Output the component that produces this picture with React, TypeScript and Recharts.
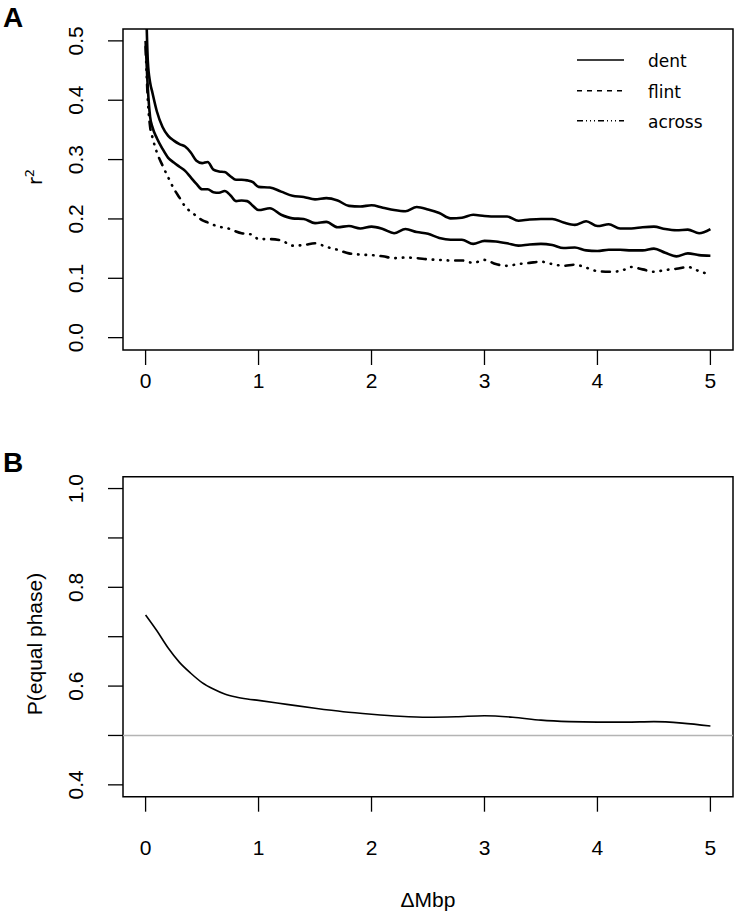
import React from 'react';
import { LineChart, Line, XAxis, YAxis, ReferenceArea, ReferenceLine } from 'recharts';

// ---------- Panel A data ----------
const distA = [
  0, 0.02, 0.04, 0.06,
  0.1, 0.15, 0.2, 0.25, 0.3, 0.35, 0.4, 0.45, 0.5, 0.55, 0.6, 0.65, 0.7, 0.75, 0.8, 0.85, 0.9, 0.95,
  1.0, 1.1, 1.2, 1.3, 1.4, 1.5, 1.6, 1.7, 1.8, 1.9,
  2.0, 2.1, 2.2, 2.3, 2.4, 2.5, 2.6, 2.7, 2.8, 2.9,
  3.0, 3.1, 3.2, 3.3, 3.4, 3.5, 3.6, 3.7, 3.8, 3.9,
  4.0, 4.1, 4.2, 4.3, 4.4, 4.5, 4.6, 4.7, 4.8, 4.9, 5.0,
];
const dent = [
  0.6, 0.465, 0.43, 0.413,
  0.381, 0.355, 0.34, 0.332, 0.326, 0.322, 0.312, 0.298, 0.294, 0.296, 0.283, 0.28, 0.279, 0.272, 0.266, 0.266, 0.265, 0.262,
  0.254, 0.253, 0.246, 0.239, 0.237, 0.233, 0.235, 0.231, 0.222, 0.221,
  0.223, 0.219, 0.215, 0.213, 0.22, 0.216, 0.21, 0.201, 0.202, 0.207,
  0.205, 0.204, 0.204, 0.197, 0.199, 0.2, 0.2, 0.194, 0.19, 0.196,
  0.188, 0.191, 0.184, 0.184, 0.186, 0.187, 0.183, 0.181, 0.182, 0.176, 0.183,
];
const flint = [
  0.5, 0.42, 0.372, 0.355,
  0.336, 0.318, 0.303, 0.295, 0.288, 0.281, 0.27, 0.259, 0.25, 0.25, 0.245, 0.244, 0.247, 0.24, 0.23, 0.231, 0.23, 0.222,
  0.215, 0.218, 0.207, 0.201, 0.2, 0.193, 0.195, 0.186, 0.188, 0.184,
  0.187, 0.183, 0.176, 0.183, 0.178, 0.175, 0.168, 0.165, 0.165, 0.158,
  0.163, 0.162, 0.159, 0.155, 0.157, 0.158, 0.156, 0.151, 0.152, 0.147,
  0.146, 0.148, 0.148, 0.147, 0.147, 0.15, 0.143, 0.137, 0.142, 0.139, 0.138,
];
const across = [
  0.49, 0.4, 0.355, 0.338,
  0.312, 0.29, 0.27, 0.251, 0.236, 0.221, 0.212, 0.205, 0.198, 0.194, 0.19, 0.187, 0.185, 0.183, 0.179, 0.176, 0.175, 0.173,
  0.166, 0.166, 0.164, 0.155, 0.156, 0.159, 0.153, 0.148, 0.142, 0.14,
  0.139, 0.137, 0.134, 0.135, 0.134, 0.132, 0.131, 0.13, 0.13, 0.126,
  0.131, 0.124, 0.121, 0.124, 0.126, 0.128, 0.124, 0.121, 0.123, 0.118,
  0.112, 0.111, 0.112, 0.119, 0.115, 0.111, 0.114, 0.116, 0.119, 0.112, 0.106,
];

// ---------- Panel B data ----------
const distB = [0, 0.1, 0.2, 0.3, 0.4, 0.5, 0.6, 0.7, 0.8, 0.9, 1.0, 1.25, 1.5, 1.75, 2.0, 2.25, 2.5, 2.75, 3.0, 3.25, 3.5, 3.75, 4.0, 4.25, 4.5, 4.75, 5.0];
const pEqualPhase = [0.744, 0.712, 0.677, 0.648, 0.626, 0.607, 0.594, 0.584, 0.578, 0.574, 0.571, 0.563, 0.555, 0.548, 0.543, 0.539, 0.537, 0.538, 0.54, 0.537, 0.531, 0.528, 0.527, 0.527, 0.528, 0.525, 0.519];

// ---------- ticks ----------
const xTicks = [0, 1, 2, 3, 4, 5];
const yTicksA = [0, 0.1, 0.2, 0.3, 0.4, 0.5];
const yTicksB = [0.4, 0.5, 0.6, 0.7, 0.8, 0.9, 1.0];
const yLabelsB = ['0.4', '', '0.6', '', '0.8', '', '1.0'];
const yLabelsA = ['0.0', '0.1', '0.2', '0.3', '0.4', '0.5'];
const seriesNames = ['dent', 'flint', 'across'];

const dataA = distA.map((d, i) => ({ d, dent: dent[i], flint: flint[i], across: across[i] }));
const dataB = distB.map((d, i) => ({ d, p: pEqualPhase[i] }));

const FONT = '"Liberation Sans", Arial, Helvetica, sans-serif';
const LEGFONT = '"DejaVu Sans", "Noto Sans", sans-serif';
const TICK_FS = 21;

const domA: [number, number] = [-0.0208, 0.52];
const domB: [number, number] = [0.376, 1.024];
const domX: [number, number] = [-0.2, 5.2];

const makeXTick = (dy: number) => (props: any) => {
  const { x, y, payload } = props;
  return (
    <text x={x} y={y + dy} textAnchor="middle" fontFamily={FONT} fontSize={TICK_FS} fill="#000">
      {payload.value}
    </text>
  );
};

const makeYTick = (ticks: number[], labels: string[]) => (props: any) => {
  const { x, y, payload } = props;
  const idx = ticks.findIndex((t) => Math.abs(t - payload.value) < 1e-9);
  const lab = idx >= 0 ? labels[idx] : '';
  if (!lab) return <g />;
  return (
    <text
      transform={`translate(${x - 25}, ${y}) rotate(-90)`}
      textAnchor="middle"
      fontFamily={FONT}
      fontSize={TICK_FS}
      fill="#000"
    >
      {lab}
    </text>
  );
};

const tickLineStyle = { stroke: '#000', strokeWidth: 1.3 };

export default function App() {
  return (
    <div style={{ position: 'absolute', left: 0, top: 0, width: 736, height: 921, background: '#fff', overflow: 'hidden' }}>
      {/* Panel A */}
      <div style={{ position: 'absolute', left: 0, top: 0 }}>
        <LineChart width={736} height={420} data={dataA} margin={{ top: 29, right: 3, left: 0, bottom: 0 }}>
          <XAxis
            type="number"
            dataKey="d"
            domain={domX}
            ticks={xTicks}
            allowDataOverflow
            axisLine={false}
            tickLine={tickLineStyle}
            tickSize={15}
            tickMargin={0}
            height={70}
            tick={makeXTick(23)}
          />
          <YAxis
            type="number"
            domain={domA}
            ticks={yTicksA}
            allowDataOverflow
            axisLine={false}
            tickLine={tickLineStyle}
            tickSize={15}
            tickMargin={0}
            width={123}
            tick={makeYTick(yTicksA, yLabelsA)}
            label={{
              content: () => (
                <text transform="translate(42, 177) rotate(-90)" textAnchor="middle" fontFamily={LEGFONT} fontSize={19} fill="#000">
                  r<tspan fontSize={13} dy={-8}>2</tspan>
                </text>
              ),
            }}
          />
          <ReferenceArea x1={domX[0]} x2={domX[1]} y1={domA[0]} y2={domA[1]} fill="none" stroke="#000" strokeWidth={1.5} ifOverflow="visible" />
          <Line type="monotone" dataKey="dent" stroke="#000" strokeWidth={2.6} dot={false} isAnimationActive={false} />
          <Line type="monotone" dataKey="flint" stroke="#000" strokeWidth={2.6} dot={false} isAnimationActive={false} />
          <Line
            type="monotone"
            dataKey="across"
            stroke="#000"
            strokeWidth={2.6}
            strokeLinecap="round"
            strokeDasharray="8 7 0.5 7 0.5 7 0.5 7"
            dot={false}
            isAnimationActive={false}
          />
        </LineChart>
      </div>

      {/* Panel B */}
      <div style={{ position: 'absolute', left: 0, top: 440 }}>
        <LineChart width={736} height={481} data={dataB} margin={{ top: 36.7, right: 3, left: 0, bottom: 0 }}>
          <XAxis
            type="number"
            dataKey="d"
            domain={domX}
            ticks={xTicks}
            allowDataOverflow
            axisLine={false}
            tickLine={tickLineStyle}
            tickSize={15}
            tickMargin={0}
            height={124.3}
            tick={makeXTick(43)}
            label={{
              content: () => (
                <text x={428} y={467} textAnchor="middle" fontFamily={FONT} fontSize={TICK_FS} fill="#000">
                  ΔMbp
                </text>
              ),
            }}
          />
          <YAxis
            type="number"
            domain={domB}
            ticks={yTicksB}
            allowDataOverflow
            axisLine={false}
            tickLine={tickLineStyle}
            tickSize={15}
            tickMargin={0}
            width={123}
            tick={makeYTick(yTicksB, yLabelsB)}
            label={{
              content: () => (
                <text transform="translate(42, 204) rotate(-90)" textAnchor="middle" fontFamily={FONT} fontSize={21} fill="#000">
                  P(equal phase)
                </text>
              ),
            }}
          />
          <ReferenceArea x1={domX[0]} x2={domX[1]} y1={domB[0]} y2={domB[1]} fill="none" stroke="#000" strokeWidth={1.5} ifOverflow="visible" />
          <ReferenceLine y={0.5} stroke="#b4b4b4" strokeWidth={1.6} />
          <Line type="monotone" dataKey="p" stroke="#000" strokeWidth={1.6} dot={false} isAnimationActive={false} />
        </LineChart>
      </div>

      {/* Legend and panel letters */}
      <svg width={736} height={921} style={{ position: 'absolute', left: 0, top: 0, pointerEvents: 'none' }}>
        <text x={3} y={27} fontFamily={FONT} fontWeight="bold" fontSize={28} fill="#000">A</text>
        <text x={3} y={472} fontFamily={FONT} fontWeight="bold" fontSize={28} fill="#000">B</text>
        <g>
          <line x1={577} x2={624} y1={60} y2={60} stroke="#000" strokeWidth={1.6} />
          <line x1={577} x2={624} y1={90.7} y2={90.7} stroke="#000" strokeWidth={1.6} strokeDasharray="5 5" />
          <line x1={577} x2={624} y1={120.7} y2={120.7} stroke="#000" strokeWidth={1.6} strokeDasharray="6 3 1 3 1 3 1 3" />
          {seriesNames.map((n, i) => (
            <text key={n} x={648} y={67 + i * 30.5} fontFamily={LEGFONT} fontSize={17} fill="#000">
              {n}
            </text>
          ))}
        </g>
      </svg>
    </div>
  );
}
